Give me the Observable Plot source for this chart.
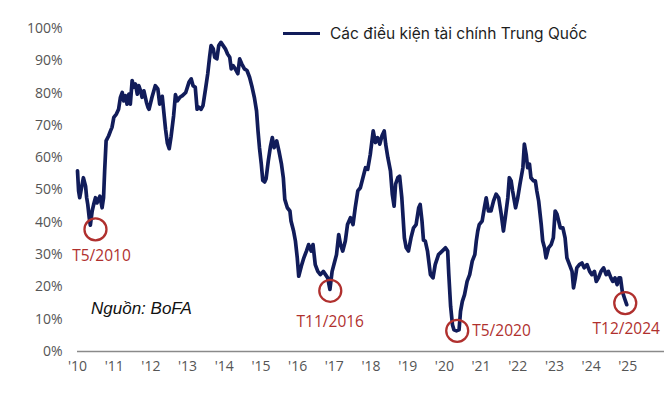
<!DOCTYPE html>
<html>
<head>
<meta charset="utf-8">
<script src="https://cdn.jsdelivr.net/npm/d3@7"></script>
<script src="https://cdn.jsdelivr.net/npm/@observablehq/plot@0.6"></script>
<style>
  html, body { margin: 0; padding: 0; background: #fff; }
  #wrap { position: relative; width: 672px; height: 394px; overflow: hidden; }
  #legend { position: absolute; left: 283px; top: 24px; display: flex; align-items: center;
    font-family: Inter, "Open Sans", sans-serif; font-size: 15.5px; color: #1e1e1e; }
  #legend .sw { width: 37px; height: 3.5px; background: #111c5a; margin-right: 10px; }
  #source { position: absolute; left: 91px; top: 299px; font-family: "Liberation Sans", Arial, sans-serif;
    font-style: italic; font-size: 17px; color: #111; }
</style>
</head>
<body>
<div id="wrap">
  <div id="chart"></div>
  <div id="legend"><span class="sw"></span><span>Các điều kiện tài chính Trung Quốc</span></div>
  <div id="source">Nguồn: BoFA</div>
</div>
<script>
// Series: China financial conditions (percentile), decimal year vs value (%)
const years = [
  2010.00,2010.03,2010.06,2010.16,2010.22,2010.25,2010.28,2010.32,2010.35,2010.40,2010.44,2010.49,2010.53,2010.61,2010.67,2010.71,2010.74,2010.78,2010.85,2010.90,2010.94,2010.99,
  2011.06,2011.12,2011.17,2011.22,2011.26,2011.31,2011.35,2011.40,2011.44,2011.49,2011.53,2011.58,2011.63,2011.67,2011.72,2011.76,2011.81,2011.88,2011.92,2011.95,
  2012.03,2012.12,2012.19,2012.24,2012.31,2012.40,2012.45,2012.50,2012.55,2012.62,2012.67,2012.72,2012.79,2012.86,2012.95,
  2013.04,2013.10,2013.15,2013.21,2013.26,2013.31,2013.37,2013.42,2013.49,2013.55,2013.60,2013.64,2013.70,2013.74,2013.80,2013.85,2013.91,2013.97,
  2014.03,2014.09,2014.15,2014.19,2014.24,2014.30,2014.37,2014.42,2014.48,2014.55,2014.62,2014.69,2014.76,2014.82,2014.88,2014.92,2014.96,
  2015.01,2015.05,2015.10,2015.14,2015.20,2015.26,2015.31,2015.36,2015.43,2015.49,2015.56,2015.61,2015.65,2015.72,2015.79,2015.82,2015.89,2015.94,2015.99,
  2016.03,2016.10,2016.17,2016.24,2016.30,2016.37,2016.42,2016.48,2016.55,2016.62,2016.70,2016.76,2016.82,2016.88,2016.94,
  2017.00,2017.06,2017.12,2017.17,2017.23,2017.30,2017.36,2017.44,2017.51,2017.57,2017.64,2017.71,2017.78,2017.85,2017.91,2017.98,
  2018.06,2018.12,2018.18,2018.24,2018.30,2018.36,2018.40,2018.46,2018.53,2018.58,2018.63,2018.67,2018.73,2018.78,2018.84,2018.91,2018.96,
  2019.02,2019.09,2019.16,2019.23,2019.30,2019.34,2019.39,2019.43,2019.48,2019.54,2019.62,2019.69,2019.75,2019.84,2019.94,
  2020.03,2020.09,2020.12,2020.17,2020.22,2020.26,2020.33,2020.40,2020.44,2020.49,2020.55,2020.62,2020.69,2020.76,2020.83,2020.87,2020.91,2020.95,
  2021.03,2021.09,2021.14,2021.20,2021.27,2021.34,2021.41,2021.48,2021.55,2021.61,2021.66,2021.73,2021.77,2021.82,2021.86,2021.94,
  2022.00,2022.06,2022.14,2022.18,2022.23,2022.27,2022.32,2022.36,2022.43,2022.48,2022.52,2022.57,2022.64,2022.68,2022.73,2022.77,2022.84,2022.91,2022.97,
  2023.02,2023.07,2023.16,2023.23,2023.29,2023.34,2023.41,2023.48,2023.52,2023.57,2023.61,2023.68,2023.75,2023.81,2023.89,2023.96,
  2024.02,2024.09,2024.14,2024.20,2024.27,2024.34,2024.41,2024.47,2024.54,2024.59,2024.65,2024.71,2024.76,2024.80,2024.85,2024.91,2024.97
];
const values = [
  55.9,49.7,47.6,53.8,51.2,47.6,45.5,41.4,39.1,43.5,45.5,47.6,46.0,48.1,44.5,47.6,55.9,65.2,66.8,68.3,69.4,72.5,
  73.5,75.0,78.7,80.2,77.6,79.2,76.6,79.7,76.6,83.9,81.8,82.8,79.7,82.3,80.7,78.7,80.7,77.1,75.6,75.0,
  78.7,82.3,81.3,76.6,79.0,68.8,64.5,62.8,66.5,73.0,79.5,77.6,78.7,79.2,80.2,
  83.4,84.4,82.3,81.8,75.0,75.6,75.0,76.1,81.3,86.0,91.1,94.7,93.7,91.1,90.6,94.7,95.7,94.7,
  93.7,92.1,91.1,87.5,88.5,87.5,86.0,90.6,89.0,87.5,87.0,84.9,81.8,78.7,74.5,68.3,63.1,
  58.0,53.0,52.5,53.5,59.0,63.5,66.2,63.1,65.2,62.1,58.0,53.8,47.1,44.5,43.5,40.4,37.3,34.2,29.0,
  23.3,26.4,29.0,31.1,33.1,31.1,33.1,26.9,24.8,23.8,24.8,23.8,22.8,19.2,24.8,
  27.4,30.0,36.2,33.1,31.1,34.2,39.3,41.4,39.3,44.5,49.7,50.7,53.8,56.9,56.4,61.0,
  68.3,64.7,66.2,64.2,66.8,68.3,64.2,60.0,55.9,48.7,45.0,51.8,53.8,54.3,47.6,35.2,32.1,
  31.1,35.2,38.3,39.3,44.5,45.5,40.4,34.5,34.2,31.1,23.8,22.8,26.9,30.0,31.1,
  32.1,31.1,24.0,14.0,8.3,6.7,6.4,6.7,12.4,15.5,17.6,21.7,23.8,28.0,30.0,34.2,37.3,39.3,
  40.4,44.5,47.6,43.5,43.5,46.6,48.7,47.6,42.5,37.3,41.4,47.6,53.8,52.8,49.7,44.5,
  47.6,51.8,56.9,64.2,61.0,56.9,58.0,53.8,52.8,52.8,49.7,46.6,39.3,34.2,32.1,29.0,32.1,33.1,35.2,
  43.5,42.5,38.3,38.3,35.2,29.0,26.9,24.8,19.7,22.8,25.9,26.9,27.4,25.9,26.9,24.8,
  23.8,24.8,21.7,22.8,24.8,25.9,23.8,24.8,22.8,21.7,22.8,20.7,22.8,22.8,18.6,16.5,14.5
];
const tickYears = [2010,2011,2012,2013,2014,2015,2016,2017,2018,2019,2020,2021,2022,2023,2024,2025];
const tickPercents = [0,10,20,30,40,50,60,70,80,90,100];

// Annotated lows
const annotLabels = ["T5/2010", "T11/2016", "T5/2020", "T12/2024"];
const annotYears  = [2010.49, 2016.89, 2020.35, 2024.93];
const annotValues = [37.8, 18.8, 6.4, 15.0];

// layout of the annotation labels (relative to circle)
const labelLayout = [
  {dx: 6, dy: 27, textAnchor: "middle"},
  {dx: 0, dy: 31, textAnchor: "middle"},
  {dx: 15, dy: 0, textAnchor: "start"},
  {dx: 1, dy: 26, textAnchor: "middle"}
];

const series = years.map((t, i) => ({t, v: values[i]}));
const annots = annotLabels.map((label, i) => ({label, t: annotYears[i], v: annotValues[i]}));

const red = "#b0302e";
const navy = "#111c5a";
const yearFmt = d => "'" + String(d).slice(2);

const marks = [
  Plot.ruleY([0], {stroke: "#8a8a8a", strokeWidth: 1.3}),
  Plot.line(series, {x: "t", y: "v", stroke: navy, strokeWidth: 3.7, strokeLinejoin: "round", strokeLinecap: "round"}),
  Plot.dot(annots, {x: "t", y: "v", r: 11, stroke: red, strokeWidth: 2.3, fill: "none"})
];
annots.forEach((a, i) => {
  const L = labelLayout[i];
  marks.push(Plot.text([a], {x: "t", y: "v", text: "label", dx: L.dx, dy: L.dy, textAnchor: L.textAnchor,
    fill: red, fontSize: 15.5, fontWeight: 500}));
});

const chart = Plot.plot({
  width: 672,
  height: 394,
  marginLeft: 77,
  marginRight: 8,
  marginTop: 28,
  marginBottom: 43,
  style: {fontFamily: "'Open Sans', sans-serif", background: "#fff"},
  x: {domain: [2010, 2026], label: null},
  y: {domain: [0, 100], label: null},
  marks: [
    Plot.axisX({ticks: tickYears, tickFormat: yearFmt, tickSize: 0, tickPadding: 10, fontSize: 14, color: "#555", label: null}),
    Plot.axisY({ticks: tickPercents, tickFormat: d => d + "%", tickSize: 0, tickPadding: 15, fontSize: 14, color: "#555", label: null}),
    ...marks
  ]
});
document.getElementById("chart").appendChild(chart);
</script>
</body>
</html>
